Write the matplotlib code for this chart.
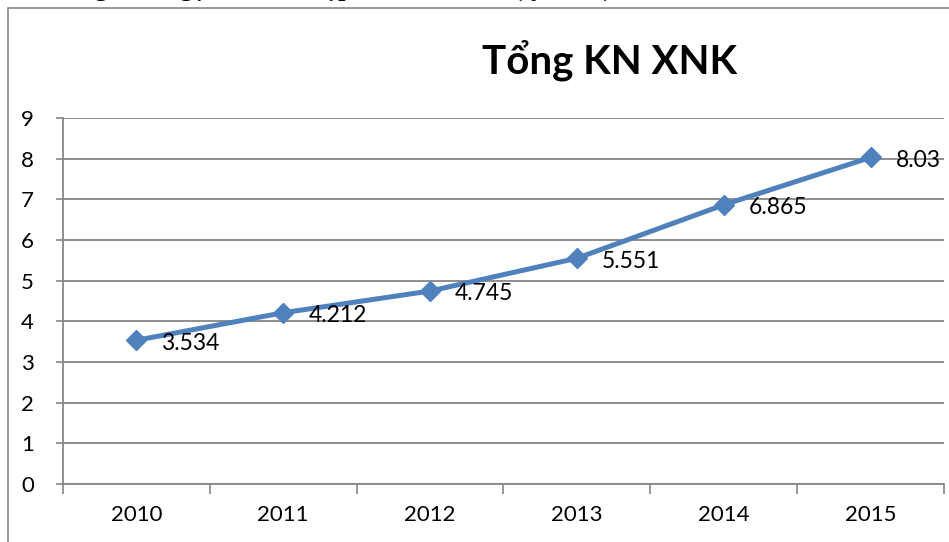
import matplotlib
matplotlib.use("Agg")

import matplotlib.pyplot as plt
from matplotlib.patches import Rectangle

# data
years = ["2010", "2011", "2012", "2013", "2014", "2015"]
values = [3.534, 4.212, 4.745, 5.551, 6.865, 8.03]
value_labels = ["3.534", "4.212", "4.745", "5.551", "6.865", "8.03"]
y_ticks = [0, 1, 2, 3, 4, 5, 6, 7, 8, 9]

blue = "#4F81BD"
grey = "#868686"
font = ["Lato", "Noto Sans", "DejaVu Sans"]

plt.rcParams["font.family"] = font

fig = plt.figure(figsize=(9.49, 5.42), dpi=100)

# outer chart frame (runs off right and bottom edges)
fig.patches.append(Rectangle((8 / 949, -0.1), 1.2, 1.1 - 8 / 542,
                             transform=fig.transFigure, fill=False,
                             edgecolor=grey, linewidth=1.2))

# caption of the page, mostly cut off by the top edge
fig.text(612 / 949, 1.0 + 4 / 542, "Tổng kim ngạch xuất nhập khẩu của VN (tỷ USD)",
         family="Liberation Serif", fontweight="bold", fontsize=19,
         ha="right", va="baseline")

ax = fig.add_axes([63 / 949, 1 - 484 / 542, 881 / 949, (484 - 118) / 542])

x = list(range(len(years)))
ax.plot(x, values, color=blue, linewidth=3.6, marker="D", markersize=10,
        markerfacecolor=blue, markeredgecolor=blue, zorder=3)

for xi, v, lab in zip(x, values, value_labels):
    ax.annotate(lab, (xi, v), xytext=(18, -2), textcoords="offset points",
                ha="left", va="center", fontsize=16.5, color="black", zorder=4)

ax.set_xlim(-0.5, len(years) - 0.5)
ax.set_ylim(0, 9)
ax.set_yticks(y_ticks)
ax.set_yticklabels([str(t) for t in y_ticks], fontsize=16)
ax.yaxis.grid(True, color=grey, linewidth=1.3)
ax.set_axisbelow(True)

# category labels centred, tick marks at boundaries
ax.set_xticks(x)
ax.set_xticklabels(years, fontsize=16)
ax.tick_params(axis="x", which="major", length=0, pad=15)
ax.set_xticks([i - 0.5 for i in range(len(years) + 1)], minor=True)
ax.tick_params(axis="x", which="minor", length=7, width=1.2, color=grey,
               direction="out")
ax.tick_params(axis="y", length=5, width=1.2, color=grey, pad=16)

for side in ["top", "right"]:
    ax.spines[side].set_visible(False)
for side in ["left", "bottom"]:
    ax.spines[side].set_color(grey)
    ax.spines[side].set_linewidth(1.3)

fig.text(610 / 949, 1 - 60 / 542, "Tổng KN XNK", fontsize=29,
         fontweight="bold", ha="center", va="center")

fig.savefig("out.png", dpi=100)
